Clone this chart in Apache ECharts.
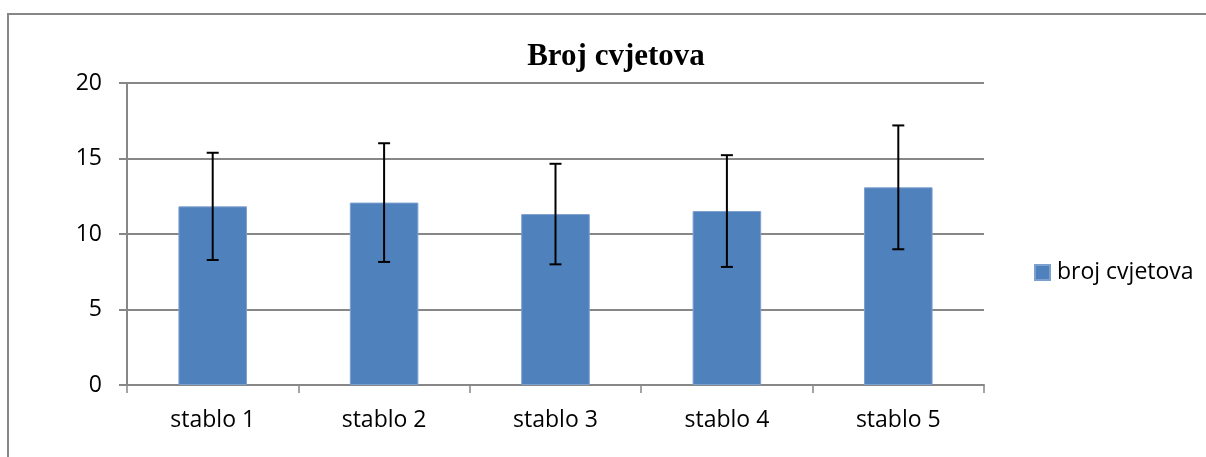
<!DOCTYPE html>
<html>
<head>
	<meta charset="UTF-8">
	<title>Broj cvjetova</title>
	<script src="https://cdn.jsdelivr.net/npm/echarts@6/dist/echarts.min.js"></script>
	<style>
		html, body {
			margin: 0;
			padding: 0;
			background: #fff;
		}
		#chart {
			width: 1206px;
			height: 457px;
		}
	</style>
</head>
<body>
	<div id="chart"></div>
	<script type="text/javascript">
		// podaci
		var categories = ['stablo 1', 'stablo 2', 'stablo 3', 'stablo 4', 'stablo 5'];
		var means = [11.83, 12.08, 11.32, 11.52, 13.09];
		var errors = [3.55, 3.93, 3.33, 3.7, 4.1];
		var yTicks = [0, 5, 10, 15, 20];

		var labelFont = 'Open Sans';
		var gray = '#878787';

		var errData = [];
		for (var i = 0; i < categories.length; i++) {
			errData.push([i, means[i] - errors[i], means[i] + errors[i]]);
		}

		var myChart = echarts.init(document.getElementById('chart'));
		var option = {
			animation: false,
			title: {
				text: 'Broj cvjetova',
				left: 611,
				textAlign: 'center',
				top: 36,
				textStyle: {
					fontFamily: 'Liberation Serif',
					fontWeight: 'bold',
					fontSize: 31,
					color: '#000'
				}
			},
			graphic: [{
				type: 'polyline',
				shape: { points: [[8, 457], [8, 14], [1206, 14]] },
				style: { stroke: gray, lineWidth: 2, fill: null },
				silent: true
			}],
			legend: {
				data: ['broj cvjetova'],
				left: 1029,
				top: 256,
				icon: 'rect',
				itemWidth: 15,
				itemHeight: 15,
				itemGap: 7,
				textStyle: {
					fontFamily: labelFont,
					fontSize: 23,
					color: '#000',
					padding: [0, 0, 0, 2]
				}
			},
			grid: {
				left: 127,
				right: 222,
				top: 83,
				bottom: 72
			},
			xAxis: {
				type: 'category',
				data: categories,
				axisLine: { lineStyle: { color: gray, width: 2 } },
				axisTick: { show: true, alignWithLabel: false, length: 8, lineStyle: { color: gray, width: 1.5 } },
				axisLabel: {
					margin: 24,
					fontFamily: labelFont,
					fontSize: 23,
					color: '#000'
				}
			},
			yAxis: {
				type: 'value',
				min: yTicks[0],
				max: yTicks[yTicks.length - 1],
				interval: 5,
				axisLine: { show: true, lineStyle: { color: gray, width: 2 } },
				axisTick: { show: true, length: 8, lineStyle: { color: gray, width: 2 } },
				splitLine: { lineStyle: { color: gray, width: 2 } },
				axisLabel: {
					margin: 25,
					fontFamily: labelFont,
					fontSize: 23,
					color: '#000',
					padding: [3, 0, 0, 0]
				}
			},
			series: [{
				name: 'broj cvjetova',
				type: 'bar',
				data: means,
				barWidth: '40%',
				itemStyle: {
					color: '#4F81BD',
					borderColor: '#7DA1CE',
					borderWidth: 1
				},
				z: 2
			}, {
				type: 'custom',
				name: 'greska',
				data: errData,
				z: 5,
				renderItem: function(params, api) {
					var idx = api.value(0);
					var low = api.coord([idx, api.value(1)]);
					var high = api.coord([idx, api.value(2)]);
					var half = 6;
					var st = { stroke: '#000', lineWidth: 2 };
					return {
						type: 'group',
						children: [{
							type: 'line',
							shape: { x1: high[0], y1: high[1], x2: low[0], y2: low[1] },
							style: st
						}, {
							type: 'line',
							shape: { x1: high[0] - half, y1: high[1], x2: high[0] + half, y2: high[1] },
							style: st
						}, {
							type: 'line',
							shape: { x1: low[0] - half, y1: low[1], x2: low[0] + half, y2: low[1] },
							style: st
						}]
					};
				}
			}]
		};
		myChart.setOption(option, true);
	</script>
</body>
</html>
